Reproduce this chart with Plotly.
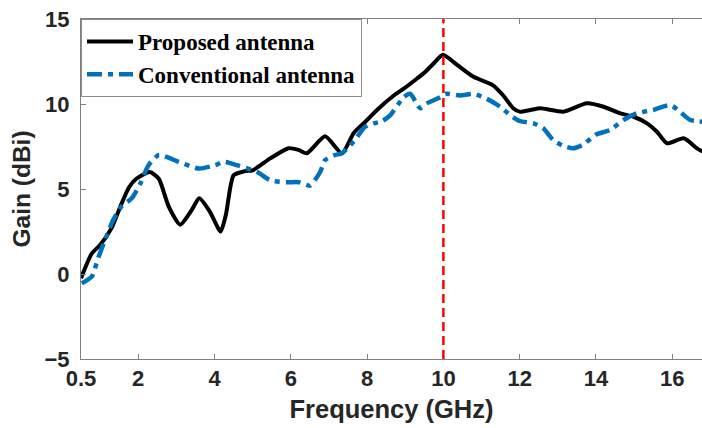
import plotly.graph_objects as go

# Frequency (GHz) and gain (dBi)
freq_prop = [0.5, 0.78, 1.0, 1.3, 1.53, 1.76, 1.95, 2.3, 2.54, 2.8, 3.1, 3.4, 3.6, 3.88, 4.16,
             4.3, 4.5, 4.8, 5.0, 5.46, 5.94, 6.2, 6.42, 6.9, 7.34, 7.65, 8.0, 8.26, 8.7, 8.96,
             9.31, 9.53, 9.75, 9.99, 10.36, 10.79, 11.3, 11.57, 11.83, 12.0, 12.28, 12.54,
             13.15, 13.76, 14.2, 14.64, 14.99, 15.34, 15.6, 15.86, 16.3, 16.65, 16.8]
gain_prop = [-0.25, 1.2, 1.7, 2.7, 3.96, 5.1, 5.6, 6.0, 5.6, 3.96, 2.9, 3.76, 4.45, 3.66, 2.5,
             3.5, 5.8, 6.05, 6.1, 6.8, 7.4, 7.3, 7.1, 8.1, 7.1, 8.3, 9.06, 9.65, 10.5, 10.9,
             11.5, 11.9, 12.4, 12.9, 12.3, 11.6, 11.1, 10.5, 9.75, 9.55, 9.65, 9.75,
             9.55, 10.04, 9.84, 9.45, 9.25, 8.86, 8.37, 7.69, 7.98, 7.39, 7.2]

freq_conv = [0.52, 0.78, 0.96, 1.13, 1.35, 1.57, 1.83, 2.05, 2.27, 2.54, 3.06, 3.59, 4.02,
             4.24, 4.59, 5.12, 5.47, 5.9, 6.21, 6.5, 6.77, 6.9, 7.16, 7.34, 7.65, 7.95, 8.18,
             8.4, 8.61, 8.96, 9.13, 9.39, 9.57, 9.92, 10.05, 10.44, 10.79, 11.14, 11.49,
             11.75, 12.0, 12.36, 12.62, 12.88, 13.15, 13.4, 13.66, 14.0, 14.37, 14.72, 15.07,
             15.5, 15.95, 16.2, 16.47, 16.78]
gain_conv = [-0.55, -0.16, 1.0, 2.0, 3.2, 4.0, 4.45, 5.3, 6.4, 7.0, 6.6, 6.2, 6.4,
             6.6, 6.4, 6.0, 5.5, 5.4, 5.4, 5.2, 6.0, 6.7, 7.0, 7.1, 7.8, 8.66, 8.86,
             9.0, 9.35, 10.4, 10.6, 9.75, 10.04, 10.4, 10.6, 10.5, 10.6, 10.3, 9.84,
             9.35, 9.0, 8.86, 8.57, 7.88, 7.53, 7.39, 7.6, 8.2, 8.47, 9.06, 9.45,
             9.65, 9.94, 9.55, 9.06, 8.96]

x_ticks = [0.5, 2, 4, 6, 8, 10, 12, 14, 16]
x_ticktext = ["0.5", "2", "4", "6", "8", "10", "12", "14", "16"]
y_ticks = [-5, 0, 5, 10, 15]
marker_freq = 10

fig = go.Figure()
fig.add_trace(go.Scatter(x=freq_prop, y=gain_prop, mode="lines", name="Proposed antenna",
                         line=dict(color="black", width=4, shape="spline", smoothing=0.6)))
fig.add_trace(go.Scatter(x=freq_conv, y=gain_conv, mode="lines", name="Conventional antenna",
                         line=dict(color="#0072BD", width=4.5, shape="spline", smoothing=0.6,
                                   dash="15px,6px,5px,6px")))

fig.add_shape(type="line", x0=marker_freq, x1=marker_freq, y0=-5, y1=15, xref="x", yref="y",
              line=dict(color="red", width=2.5, dash="9px,5px"))

axis_font = dict(family="Liberation Sans", size=22, color="#262626", weight="bold")
title_font = dict(family="Liberation Sans", size=25.5, color="#262626", weight="bold")
fig.update_layout(
    width=702, height=428,
    margin=dict(l=81, r=0, t=19, b=69),
    paper_bgcolor="white", plot_bgcolor="white",
    showlegend=True,
    legend=dict(x=0, y=1, xanchor="left", yanchor="top", bgcolor="white",
                bordercolor="#8c8c8c", borderwidth=1, tracegroupgap=0, itemwidth=46,
                font=dict(family="Liberation Serif", size=23, color="black", weight="bold")),
    xaxis=dict(range=[0.5, 16.78], tickvals=x_ticks, ticktext=x_ticktext,
               ticks="inside", ticklen=5, tickcolor="#808080", showline=True,
               linecolor="#808080", linewidth=1, mirror="ticks", showgrid=False, zeroline=False,
               tickfont=axis_font,
               title=dict(text="Frequency (GHz)", font=title_font, standoff=9)),
    yaxis=dict(range=[-5, 15], tickvals=y_ticks, ticks="inside", ticklen=5, tickcolor="#808080",
               showline=True, linecolor="#808080", linewidth=1, showgrid=False, zeroline=False,
               tickfont=axis_font, ticklabelstandoff=6,
               title=dict(text="Gain (dBi)", font=dict(family="Liberation Sans", size=24.5,
                                                       color="#262626", weight="bold"),
                          standoff=6)),
)

fig.write_html("out.html")
